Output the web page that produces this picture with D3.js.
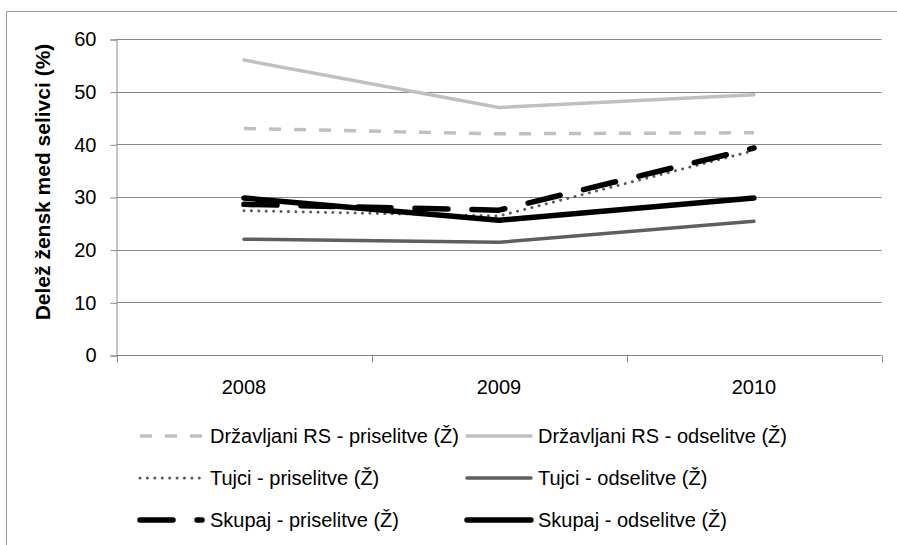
<!DOCTYPE html>
<html><head><meta charset="utf-8">
<script src="https://cdn.jsdelivr.net/npm/d3@7"></script>
<style>body{margin:0;background:#fff}svg{display:block}</style>
</head><body>
<svg id="c" width="897" height="545"></svg>
<script>
// ---- data ----
const categories = ["2008", "2009", "2010"];
const seriesNames = [
  "Državljani RS - priselitve (Ž)",
  "Državljani RS - odselitve (Ž)",
  "Tujci - priselitve (Ž)",
  "Tujci - odselitve (Ž)",
  "Skupaj - priselitve (Ž)",
  "Skupaj - odselitve (Ž)"
];
const drzavljaniPriselitve = [43.0, 42.0, 42.2];
const drzavljaniOdselitve  = [56.0, 47.0, 49.4];
const tujciPriselitve      = [27.4, 26.4, 38.8];
const tujciOdselitve       = [22.0, 21.4, 25.4];
const skupajPriselitve     = [28.6, 27.5, 39.3];
const skupajOdselitve      = [29.8, 25.6, 29.8];
const yTicks = [0, 10, 20, 30, 40, 50, 60];
const yTitle = "Delež žensk med selivci (%)";

const seriesValues = [drzavljaniPriselitve, drzavljaniOdselitve, tujciPriselitve,
                      tujciOdselitve, skupajPriselitve, skupajOdselitve];

// ---- styles ----
const styles = [
  {stroke: "#c0c0c0", width: 3.5, dash: "12,13", cap: "butt"},
  {stroke: "#c0c0c0", width: 3.5, dash: null, cap: "round"},
  {stroke: "#595959", width: 3,   dash: "0.01,7.4", cap: "round"},
  {stroke: "#5f5f5f", width: 3.5, dash: null, cap: "round"},
  {stroke: "#000000", width: 5.5, dash: "33,24", cap: "round"},
  {stroke: "#000000", width: 5.5, dash: null, cap: "round"}
];
const FONT = "'Liberation Sans', Arial, sans-serif";

const svg = d3.select("#c").style("font-family", FONT);

// border
svg.append("path").attr("d", "M6.5,545V11.5H897").attr("fill", "none")
  .attr("stroke", "#9a9a9a").attr("stroke-width", 1);

const x = d3.scaleBand().domain(categories).range([116.5, 881.5]).padding(0);
const y = d3.scaleLinear().domain([0, 60]).range([355, 39]);
const cx = c => x(c) + x.bandwidth() / 2;
const gridColor = "#878787";

// gridlines
svg.append("g").selectAll("line").data(yTicks.filter(t => t !== 0)).join("line")
  .attr("x1", 116.5).attr("x2", 881.5)
  .attr("y1", d => Math.round(y(d)) + 0.5).attr("y2", d => Math.round(y(d)) + 0.5)
  .attr("stroke", gridColor).attr("stroke-width", 1);

// y axis
const yAxis = svg.append("g").attr("transform", "translate(116.5,0.5)")
  .call(d3.axisLeft(y).tickValues(yTicks).tickSize(6).tickPadding(14).tickFormat(d3.format("d")));
yAxis.select(".domain").attr("stroke", gridColor);
yAxis.selectAll(".tick line").attr("stroke", gridColor);
yAxis.selectAll("text").attr("font-size", 20).attr("font-family", FONT).attr("fill", "#000");

// x axis line + boundary ticks
svg.append("line").attr("x1", 116.5).attr("x2", 881.5).attr("y1", 355.5).attr("y2", 355.5)
  .attr("stroke", gridColor);
const bounds = categories.map(c => x(c)).concat([x.range()[1]]);
svg.append("g").selectAll("line").data(bounds).join("line")
  .attr("x1", d => Math.round(d) + 0.5).attr("x2", d => Math.round(d) + 0.5)
  .attr("y1", 355.5).attr("y2", 362.5).attr("stroke", gridColor);

const xAxis = svg.append("g").attr("transform", "translate(0,355)")
  .call(d3.axisBottom(x).tickSize(0).tickPadding(25));
xAxis.select(".domain").remove();
xAxis.selectAll("text").attr("font-size", 20).attr("font-family", FONT).attr("fill", "#000");

// y title
svg.append("text").attr("transform", "translate(50,182) rotate(-90)")
  .attr("text-anchor", "middle").attr("font-size", 21).attr("font-weight", "bold")
  .attr("fill", "#000").text(yTitle);

// lines
const line = d3.line().x((d, i) => cx(categories[i])).y(d => y(d));
seriesValues.forEach((vals, i) => {
  const s = styles[i];
  svg.append("path").datum(vals).attr("d", line).attr("fill", "none")
    .attr("stroke", s.stroke).attr("stroke-width", s.width)
    .attr("stroke-dasharray", s.dash).attr("stroke-linecap", s.cap)
    .attr("stroke-linejoin", "round");
});

// legend
const rowY = [436, 478, 520];
const colSample = [140, 467];
const colText = [210, 538];
seriesNames.forEach((name, i) => {
  const r = Math.floor(i / 2), c = i % 2, s = styles[i];
  const g = svg.append("g");
  const x0 = colSample[c], x1 = c === 0 ? 202 : 531;
  g.append("line").attr("x1", x0).attr("x2", x1).attr("y1", rowY[r]).attr("y2", rowY[r])
    .attr("stroke", s.stroke).attr("stroke-width", s.width)
    .attr("stroke-dasharray", s.dash).attr("stroke-linecap", s.cap);
  g.append("text").attr("x", colText[c]).attr("y", rowY[r]).attr("dy", "0.35em")
    .attr("font-size", 20).attr("fill", "#000").text(name);
});
</script>
</body></html>
